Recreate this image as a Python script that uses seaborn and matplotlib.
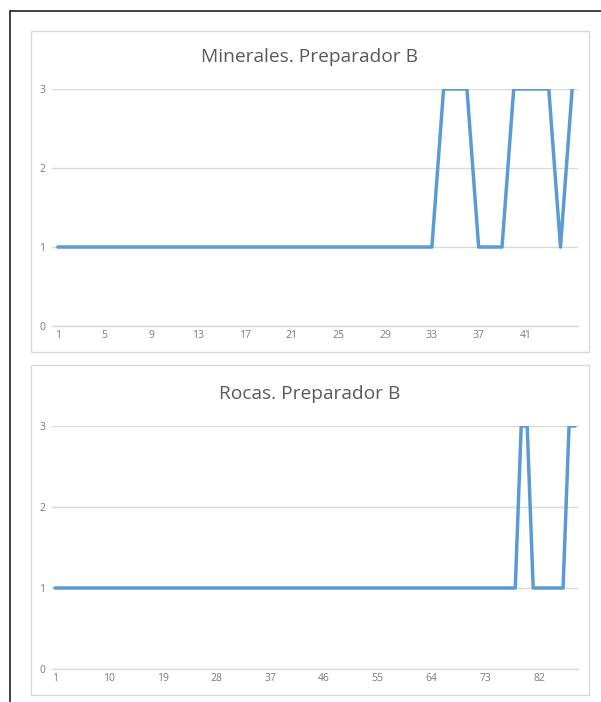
import numpy as np
import pandas as pd
import seaborn as sns
import matplotlib
matplotlib.use("Agg")
import matplotlib.pyplot as plt
from matplotlib.patches import Rectangle
from matplotlib.lines import Line2D

# ---- data ----
min_title = "Minerales. Preparador B"
min_values = [1]*33 + [3, 3, 3] + [1, 1, 1] + [3, 3, 3, 3] + [1] + [3]
min_ticks = list(range(1, 42, 4))

roc_title = "Rocas. Preparador B"
roc_values = [1]*78 + [3, 3] + [1]*6 + [3, 3]
roc_ticks = list(range(1, 83, 9))

y_ticks = [0, 1, 2, 3]

sns.set_theme(style="white")
plt.rcParams['font.family'] = ['Open Sans', 'DejaVu Sans']

W, H = 601, 702
fig = plt.figure(figsize=(W/100, H/100), dpi=100)
fig.patch.set_facecolor("white")

def fx(x): return x / W
def fy(y): return 1 - y / H

# outer border lines (top and left)
fig.add_artist(Line2D([fx(10), fx(601)], [fy(11), fy(11)], color="#222222", lw=1.2, zorder=-5))
fig.add_artist(Line2D([fx(10), fx(10)], [fy(11), fy(702)], color="#222222", lw=1.2, zorder=-5))

# chart boxes
for (x0, y0, x1, y1) in [(31, 31, 589, 352), (31, 365, 589, 695)]:
    fig.add_artist(Rectangle((fx(x0), fy(y1)), fx(x1) - fx(x0), fy(y0) - fy(y1),
                             facecolor="white", edgecolor="#D9D9D9", lw=1.0, zorder=-5))

def draw(values, ticks, title, left, right, top, bottom, title_y):
    ax = fig.add_axes([fx(left), fy(bottom), fx(right) - fx(left), fy(top) - fy(bottom)])
    n = len(values)
    df = pd.DataFrame({"x": np.arange(1, n + 1), "y": values})
    sns.lineplot(data=df, x="x", y="y", ax=ax, color="#5B9BD5", linewidth=2.5)
    ax.set_xlim(0.5, n + 0.5)
    ax.set_ylim(0, 3)
    ax.set_yticks(y_ticks)
    ax.set_xticks(ticks)
    ax.set_xticklabels([str(t) for t in ticks])
    ax.set_xlabel("")
    ax.set_ylabel("")
    for s in ["top", "right", "left"]:
        ax.spines[s].set_visible(False)
    ax.spines["bottom"].set_color("#D9D9D9")
    ax.spines["bottom"].set_linewidth(1.0)
    ax.grid(axis="y", color="#D9D9D9", linewidth=1.0)
    ax.set_axisbelow(True)
    ax.tick_params(axis="both", length=0, labelsize=7.5, colors="#7A7A7A", pad=5)
    ax.tick_params(axis="x", pad=3)
    ax.set_facecolor("none")
    fig.text(fx(309.5), fy(title_y), title, ha="center", va="center",
             fontsize=13.8, color="#595959")
    return ax

draw(min_values, min_ticks, min_title, 52, 578, 89, 326, 57)
draw(roc_values, roc_ticks, roc_title, 52, 578, 426, 669, 394)

fig.savefig("out.png", dpi=100)
